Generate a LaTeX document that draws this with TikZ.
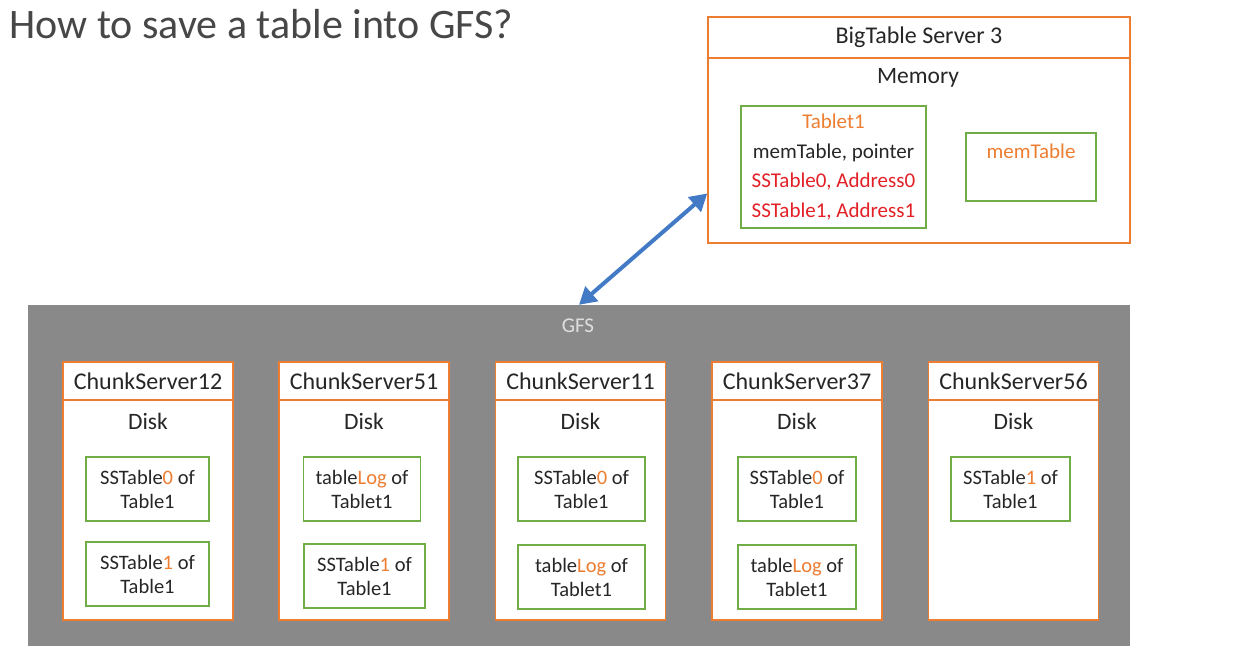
\documentclass[tikz,border=0pt]{standalone}
\usepackage{fontspec}
\setmainfont{Carlito}
\usetikzlibrary{arrows.meta}
\definecolor{lineorange}{RGB}{237,125,49}
\definecolor{linegreen}{RGB}{112,173,71}
\definecolor{txtred}{RGB}{226,32,38}
\definecolor{txtdark}{RGB}{38,38,38}
\definecolor{gfsgray}{RGB}{137,137,137}
\definecolor{arrowblue}{RGB}{66,122,198}
\newcommand{\og}[1]{\textcolor{lineorange}{#1}}

\begin{document}
\begin{tikzpicture}[x=1pt, y=-1pt,
	hdbox/.style={draw=lineorange, line width=1.5pt, fill=white, inner sep=0pt, text=txtdark, font=\fontsize{24}{28}\selectfont},
	csbox/.style={hdbox, minimum width=170pt},
	gbox/.style={draw=linegreen, line width=1.2pt, inner sep=0pt, align=center, text=txtdark},
	chunk/.style={gbox, minimum width=122pt, minimum height=64pt, font=\fontsize{20.5}{24}\selectfont},
	lbl/.style={text=txtdark, font=\fontsize{23.5}{27}\selectfont},
	link/.style={arrowblue, line width=4pt, {Triangle[length=17pt,width=19pt]}-{Triangle[length=17pt,width=19pt]}}]
	\useasboundingbox (0,0) rectangle (1245,651);
	\node[anchor=base west, text=txtdark!85, font=\fontsize{42}{48}\selectfont] (title) at (6,38) {How to save a table into GFS?};

	% bigtable server
	\node[hdbox, minimum width=422pt, minimum height=41pt] (srv) at (919,37.5) {BigTable Server 3};
	\node[hdbox, minimum width=422pt, minimum height=185pt] (mem) at (919,150.5) {};
	\node[lbl] (memlbl) at (918,78) {Memory};
	\node[gbox, minimum width=185pt, minimum height=122pt, font=\fontsize{21}{29.5}\selectfont] (tablet) at (833.5,167)
		{\og{Tablet1}\\memTable, pointer\\\textcolor{txtred}{SSTable0, Address0}\\\textcolor{txtred}{SSTable1, Address1}};
	\node[gbox, minimum width=130pt, minimum height=68pt] (memt) at (1031,167) {};
	\node[text=lineorange, font=\fontsize{21}{24}\selectfont] (memtlbl) at (1031,151) {memTable};

	% gfs
	\node[fill=gfsgray, minimum width=1102pt, minimum height=341pt, inner sep=0pt] (gfs) at (579,475.5) {};
	\node[text=gray!25, font=\fontsize{21}{24}\selectfont] (gfslbl) at (578,326) {GFS};
	\draw[link] (gfs.north) -- ([yshift=-43pt]mem.west);

	% chunk servers
	\node[csbox, minimum height=38pt] (cs12) at (148,381) {ChunkServer12};
	\node[csbox, minimum height=220pt] (d12) at (148,510) {};
	\node[lbl] (k12) at (148,421) {Disk};
	\node[chunk, minimum width=123pt] (a12) at (147.5,489) {SSTable\og{0} of\\Table1};
	\node[chunk, minimum width=123pt] (b12) at (147.5,574) {SSTable\og{1} of\\Table1};

	\node[csbox, minimum height=38pt] (cs51) at (364,381) {ChunkServer51};
	\node[csbox, minimum height=220pt] (d51) at (364,510) {};
	\node[lbl] (k51) at (364,421) {Disk};
	\node[chunk, minimum width=117pt] (a51) at (362,489) {table\og{Log} of\\Tablet1};
	\node[chunk, minimum width=121pt] (b51) at (364.5,576) {SSTable\og{1} of\\Table1};

	\node[csbox, minimum height=38pt] (cs11) at (580.5,381) {ChunkServer11};
	\node[csbox, minimum height=220pt] (d11) at (580.5,510) {};
	\node[lbl] (k11) at (580.5,421) {Disk};
	\node[chunk, minimum width=127pt] (a11) at (581.5,489) {SSTable\og{0} of\\Table1};
	\node[chunk, minimum width=127pt] (b11) at (581.5,577) {table\og{Log} of\\Tablet1};

	\node[csbox, minimum height=38pt] (cs37) at (797,381) {ChunkServer37};
	\node[csbox, minimum height=220pt] (d37) at (797,510) {};
	\node[lbl] (k37) at (797,421) {Disk};
	\node[chunk, minimum width=118pt] (a37) at (797,489) {SSTable\og{0} of\\Table1};
	\node[chunk, minimum width=118pt] (b37) at (797,577) {table\og{Log} of\\Tablet1};

	\node[csbox, minimum height=38pt] (cs56) at (1013.5,381) {ChunkServer56};
	\node[csbox, minimum height=220pt] (d56) at (1013.5,510) {};
	\node[lbl] (k56) at (1013.5,421) {Disk};
	\node[chunk, minimum width=119pt] (a56) at (1010.5,489) {SSTable\og{1} of\\Table1};
\end{tikzpicture}
\end{document}
